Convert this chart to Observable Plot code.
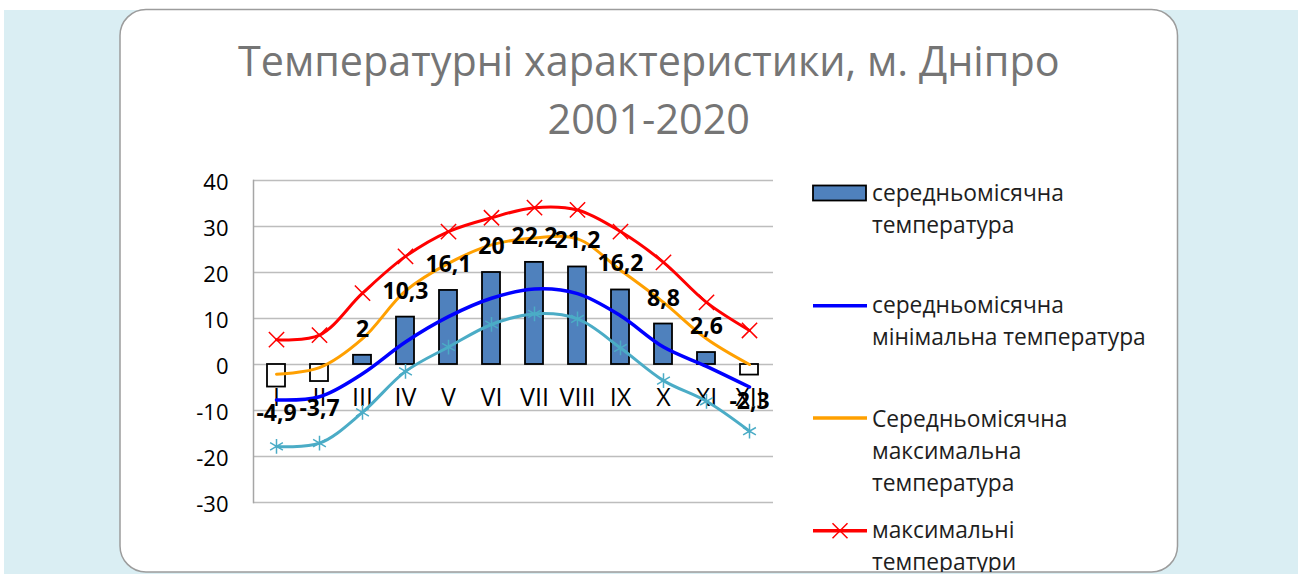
<!DOCTYPE html>
<html>
<head>
<meta charset="utf-8">
<script src="https://cdn.jsdelivr.net/npm/d3@7"></script>
<script src="https://cdn.jsdelivr.net/npm/@observablehq/plot@0.6"></script>
<style>
  html, body { margin: 0; padding: 0; width: 1298px; height: 574px; overflow: hidden; background: #fff; }
  #stage { position: relative; width: 1298px; height: 574px; }
  #stage svg { position: absolute; left: 0; top: 0; }
</style>
</head>
<body>
<div id="stage"></div>
<script>
// ---------- DATA ----------
const months = ["I", "II", "III", "IV", "V", "VI", "VII", "VIII", "IX", "X", "XI", "XII"];
const meanTemp = [-4.9, -3.7, 2, 10.3, 16.1, 20, 22.2, 21.2, 16.2, 8.8, 2.6, -2.3];
const meanMinTemp = [-7.7, -7.0, -2.0, 4.9, 10.4, 14.4, 16.4, 15.4, 10.6, 3.8, -0.4, -4.9];
const meanMaxTemp = [-2.1, -0.7, 5.6, 16.0, 22.0, 26.0, 27.5, 27.3, 20.5, 13.5, 5.6, 0.0];
const absMaxTemp = [5.4, 6.4, 15.5, 23.5, 28.9, 31.9, 34.1, 33.6, 28.9, 22.2, 13.5, 7.4];
const absMinTemp = [-17.8, -17.1, -10.4, -1.5, 3.8, 8.7, 11.0, 9.9, 3.6, -3.5, -8.0, -14.5];
const yTicks = [-30, -20, -10, 0, 10, 20, 30, 40];
const titleLines = ["Температурні характеристики, м. Дніпро", "2001-2020"];
const seriesNames = [
  ["середньомісячна", "температура"],
  ["середньомісячна", "мінімальна температура"],
  ["Середньомісячна", "максимальна", "температура"],
  ["максимальні", "температури"]
];

// ---------- STYLE ----------
const FONT = '"Open Sans", "Noto Sans", sans-serif';
const colors = { bar: "#4F81BD", min: "#0000FF", max: "#FFA000", absMax: "#FF0000", absMin: "#4BACC6" };
const W = 1298, H = 574;

const rows = months.map((m, i) => ({
  m, t: meanTemp[i], tmin: meanMinTemp[i], tmax: meanMaxTemp[i], amax: absMaxTemp[i], amin: absMinTemp[i],
  label: String(meanTemp[i]).replace(".", ",")
}));

const stage = document.getElementById("stage");

// ---------- BACKGROUND, CARD, TITLE, LEGEND ----------
const deco = d3.create("svg").attr("width", W).attr("height", H);
deco.append("rect").attr("x", 4).attr("y", 10).attr("width", W - 4).attr("height", H - 10).attr("fill", "#DAEEF3");
const card = { x: 120, y: 9.5, w: 1057.5, h: 562.5, r: 26 };
deco.append("defs").append("clipPath").attr("id", "cardclip")
  .append("rect").attr("x", card.x).attr("y", card.y).attr("width", card.w).attr("height", card.h).attr("rx", card.r);
deco.append("rect").attr("x", card.x).attr("y", card.y).attr("width", card.w).attr("height", card.h).attr("rx", card.r)
  .attr("fill", "#fff").attr("stroke", "#9c9c9c").attr("stroke-width", 1.5);
stage.appendChild(deco.node());

const titleG = deco.append("g").attr("font-family", FONT).attr("fill", "#757575").attr("text-anchor", "middle");
const tBase = [76, 133.5];
const tEls = titleLines.map((s, i) => titleG.append("text").attr("x", card.x + card.w / 2).attr("y", tBase[i]).attr("font-size", 42).text(s));
const len0 = tEls[0].node().getComputedTextLength();
const fTitle = 42 * 822 / len0;
tEls.forEach(e => e.attr("font-size", fTitle));

const legG = deco.append("g").attr("clip-path", "url(#cardclip)").attr("font-family", FONT).attr("fill", "#1e1e1e");
const legBase = [201, 313, 427, 538];
const legLineY = [193, 305.7, 418, 530.7];
const legKinds = ["bar", "min", "max", "absMax"];
const textEls = [];
seriesNames.forEach((lines, k) => {
  const kind = legKinds[k];
  if (kind === "bar") {
    legG.append("rect").attr("x", 813).attr("y", 185.5).attr("width", 53).attr("height", 15)
      .attr("fill", colors.bar).attr("stroke", "#000").attr("stroke-width", 1.8);
  } else {
    legG.append("line").attr("x1", 813).attr("x2", 867).attr("y1", legLineY[k]).attr("y2", legLineY[k])
      .attr("stroke", colors[kind]).attr("stroke-width", 3.5);
    if (kind === "absMax") {
      const cx = 840, cy = legLineY[k], s = 7.5;
      legG.append("path").attr("d", `M${cx - s},${cy - s}L${cx + s},${cy + s}M${cx - s},${cy + s}L${cx + s},${cy - s}`)
        .attr("stroke", colors.absMax).attr("stroke-width", 1.5).attr("fill", "none");
    }
  }
  lines.forEach((s, j) => {
    textEls.push(legG.append("text").attr("x", 872).attr("y", legBase[k] + j * 31.8).attr("font-size", 22).text(s));
  });
});
const lenL = textEls[0].node().getComputedTextLength();
const fLeg = 22 * 192 / lenL;
textEls.forEach(e => e.attr("font-size", fLeg));

// ---------- CHART ----------
const chart = Plot.plot({
  width: W,
  height: H,
  marginLeft: 253,
  marginRight: W - 773,
  marginTop: 180,
  marginBottom: H - 502,
  style: { fontFamily: FONT, background: "transparent", color: "#000", overflow: "visible" },
  x: { domain: months, paddingInner: 0.58, paddingOuter: 0.29, axis: null },
  y: { domain: [-30, 40], axis: null },
  marks: [
    Plot.gridY(yTicks, { stroke: "#bdbdbd", strokeOpacity: 1, strokeWidth: 1.5 }),
    Plot.frame({ anchor: "left", stroke: "#a6a6a6", strokeWidth: 1.5 }),
    Plot.axisY(yTicks, { tickSize: 0, tickPadding: 25, fontSize: 22, fill: "#000", textAnchor: "end", dy: 2, tickFormat: d => String(d) }),
    Plot.barY(rows, { x: "m", y: "t", fill: d => d.t < 0 ? "#fff" : colors.bar, stroke: "#000", strokeWidth: 1.8 }),
    Plot.text(months, { x: d => d, y: 0, dy: 41, lineAnchor: "bottom", fontSize: 25, fill: "#000" }),
    Plot.line(rows, { x: "m", y: "amin", stroke: colors.absMin, strokeWidth: 3, curve: "catmull-rom" }),
    Plot.dot(rows, { x: "m", y: "amin", symbol: "asterisk", r: 7, stroke: colors.absMin, strokeWidth: 1.5 }),
    Plot.line(rows, { x: "m", y: "tmin", stroke: colors.min, strokeWidth: 3.5, curve: "catmull-rom" }),
    Plot.line(rows, { x: "m", y: "tmax", stroke: colors.max, strokeWidth: 3, curve: "catmull-rom" }),
    Plot.line(rows, { x: "m", y: "amax", stroke: colors.absMax, strokeWidth: 3, curve: "catmull-rom" }),
    Plot.dot(rows, { x: "m", y: "amax", symbol: "times", r: 7, stroke: colors.absMax, strokeWidth: 1.5 }),
    Plot.text(rows.filter(d => d.t >= 0), { x: "m", y: "t", text: "label", dy: -18.5, lineAnchor: "bottom", fontSize: 23, fontWeight: "bold", fill: "#000" }),
    Plot.text(rows.filter(d => d.t < 0), { x: "m", y: "t", text: "label", dy: 34, lineAnchor: "bottom", fontSize: 23, fontWeight: "bold", fill: "#000" })
  ]
});
stage.appendChild(chart);
</script>
</body>
</html>
